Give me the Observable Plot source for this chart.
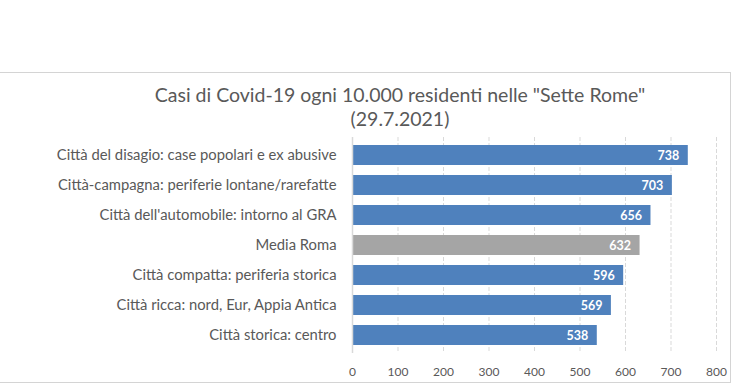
<!DOCTYPE html>
<html>
<head>
<meta charset="utf-8">
<script src="https://cdn.jsdelivr.net/npm/d3@7"></script>
<script src="https://cdn.jsdelivr.net/npm/@observablehq/plot@0.6"></script>
<style>
  html, body { margin: 0; padding: 0; background: #fff; }
  #wrap { position: relative; width: 736px; height: 390px; overflow: hidden; font-family: Lato, "Open Sans", sans-serif; }
  #frame { position: absolute; left: -2px; top: 72px; width: 733px; height: 311px; border: 1px solid #d4d4d4; box-sizing: border-box; }
  .title { position: absolute; left: 0; width: 800px; text-align: center; color: #595959; font-size: 19.5px; line-height: 24px; white-space: nowrap; }
  #chart { position: absolute; left: 0; top: 0; }
</style>
</head>
<body>
<div id="wrap">
  <div id="frame"></div>
  <div class="title" style="top:83px">Casi di Covid-19 ogni 10.000 residenti nelle "Sette Rome"</div>
  <div class="title" style="top:107px">(29.7.2021)</div>
  <div id="chart"></div>
</div>
<script>
const categories = [
  "Città del disagio: case popolari e ex abusive",
  "Città-campagna: periferie lontane/rarefatte",
  "Città dell'automobile: intorno al GRA",
  "Media Roma",
  "Città compatta: periferia storica",
  "Città ricca: nord, Eur, Appia Antica",
  "Città storica: centro"
];
const values = [738, 703, 656, 632, 596, 569, 538];
const xTicks = [0, 100, 200, 300, 400, 500, 600, 700, 800];
const averageLabel = "Media Roma";

const data = categories.map((c, i) => ({category: c, value: values[i]}));

const chart = Plot.plot({
  width: 736,
  height: 390,
  marginLeft: 352,
  marginRight: 20,
  marginTop: 137,
  marginBottom: 37,
  style: {fontFamily: "Lato, 'Open Sans', sans-serif", background: "transparent", overflow: "visible"},
  x: {domain: [0, 800]},
  y: {domain: categories, paddingInner: 0.35, paddingOuter: 0.175},
  marks: [
    Plot.gridX(xTicks.filter(d => d > 0), {stroke: "#d9d9d9", strokeOpacity: 1, strokeDasharray: "4,2"}),
    Plot.barX(data, {
      x: "value", y: "category",
      fill: d => d.category === averageLabel ? "#a5a5a5" : "#4f81bd"
    }),
    Plot.ruleX([0], {stroke: "#d9d9d9", strokeWidth: 1.5}),
    Plot.text(data, {
      x: "value", y: "category", text: d => String(d.value),
      textAnchor: "end", dx: -9, fill: "white", fontWeight: "bold", fontSize: 12.5
    }),
    Plot.axisX({ticks: xTicks, tickSize: 0, tickPadding: 14, fontSize: 12, color: "#595959", tickFormat: d => String(d), label: null}),
    Plot.axisY({tickSize: 0, tickPadding: 16, fontSize: 14.8, color: "#595959", label: null})
  ]
});
document.getElementById("chart").appendChild(chart);
</script>
</body>
</html>
